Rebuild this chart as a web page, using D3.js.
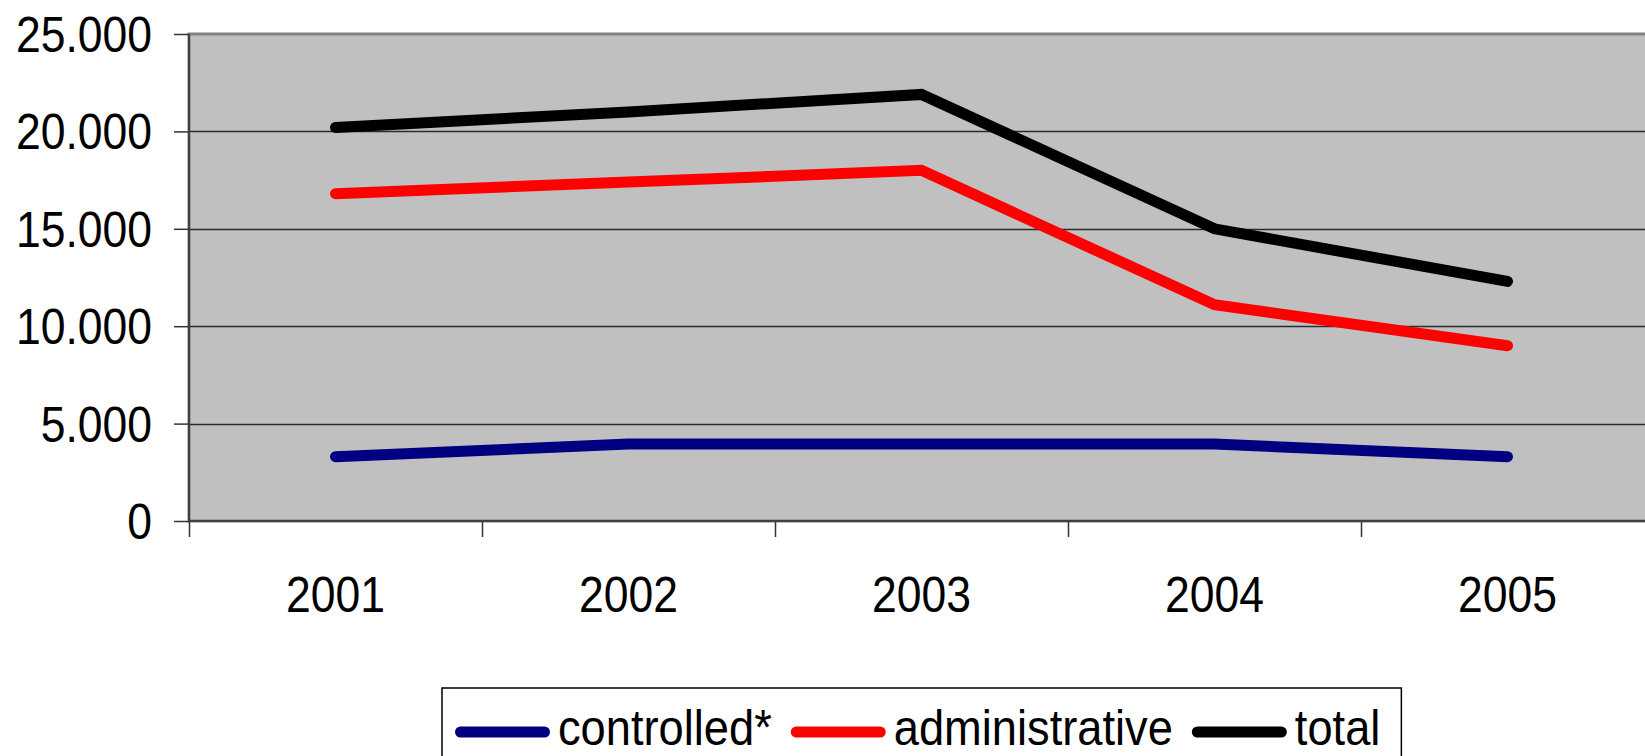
<!DOCTYPE html>
<html>
<head>
<meta charset="utf-8">
<script src="https://cdn.jsdelivr.net/npm/d3@7"></script>
<style>
  body { margin: 0; background: #fff; }
  svg { display: block; font-family: "Liberation Sans", Arial, sans-serif; }
</style>
</head>
<body>
<div id="chart"></div>
<script>
// chart data
var years = ["2001", "2002", "2003", "2004", "2005"];
var controlled = [3300, 3950, 3950, 3950, 3300];
var administrative = [16800, 17400, 18000, 11100, 9000];
var total = [20200, 21000, 21900, 15000, 12300];
var yTicks = [0, 5000, 10000, 15000, 20000, 25000];
var seriesNames = ["controlled*", "administrative", "total"];
var seriesColors = ["#000080", "#ff0000", "#000000"];

var width = 1645,
    height = 756;

// plot frame (the right side runs past the window, like the original)
var plotLeft = 189, plotRight = 1654, plotTop = 34, plotBottom = 521;
var fontSize = 50, squeeze = 0.89, legendSqueeze = 0.905;

var svg = d3.select("#chart")
    .append("svg")
    .attr("width", width)
    .attr("height", height);

var x = d3.scaleBand()
    .domain(years)
    .range([plotLeft, plotRight]);

var y = d3.scaleLinear()
    .domain([0, 25000])
    .range([plotBottom, plotTop]);

// german style thousands: 25.000
var fmt = d3.formatLocale({decimal: ",", thousands: ".", grouping: [3], currency: ["", ""]}).format(",d");

// grey plot area
svg.append("rect")
    .attr("x", plotLeft)
    .attr("y", plotTop)
    .attr("width", plotRight - plotLeft)
    .attr("height", plotBottom - plotTop)
    .attr("fill", "#c0c0c0")
    .attr("stroke", "#808080")
    .attr("stroke-width", 3);

// gridlines
svg.append("g")
    .selectAll("line")
    .data(yTicks.filter(function(d) { return d > 0 && d < 25000; }))
    .enter()
    .append("line")
    .attr("x1", plotLeft)
    .attr("x2", plotRight)
    .attr("y1", function(d) { return Math.round(y(d)) + 0.5; })
    .attr("y2", function(d) { return Math.round(y(d)) + 0.5; })
    .attr("stroke", "#2a2a2a")
    .attr("stroke-width", 1.3);

// y axis
var yAxis = svg.append("g")
    .attr("transform", "translate(" + plotLeft + ",0)")
    .call(d3.axisLeft(y).tickValues(yTicks).tickSize(15).tickFormat(fmt));
yAxis.select(".domain").remove();
yAxis.selectAll("line").attr("stroke", "#333").attr("stroke-width", 1.5);
yAxis.selectAll("text")
    .attr("x", 0)
    .attr("dy", "0.35em")
    .attr("transform", "translate(-37,0) scale(" + squeeze + ",1)")
    .style("font-size", fontSize + "px")
    .style("font-family", "'Liberation Sans', Arial, sans-serif")
    .attr("fill", "#000");

// x axis labels (centred in each band)
var xAxis = svg.append("g")
    .attr("transform", "translate(0," + plotBottom + ")")
    .call(d3.axisBottom(x).tickSize(0));
xAxis.select(".domain").remove();
xAxis.selectAll("text")
    .attr("y", 0)
    .attr("dy", 0)
    .attr("transform", "translate(0,91) scale(" + squeeze + ",1)")
    .style("font-size", fontSize + "px")
    .style("font-family", "'Liberation Sans', Arial, sans-serif")
    .attr("fill", "#000");

// x tick marks sit on the band edges
var edge = d3.scaleLinear().domain([0, years.length]).range([plotLeft, plotRight]);
var xTicks = svg.append("g")
    .attr("transform", "translate(0," + plotBottom + ")")
    .call(d3.axisBottom(edge).tickValues(d3.range(years.length + 1)).tickSize(16).tickFormat(""));
xTicks.select(".domain").remove();
xTicks.selectAll("line").attr("stroke", "#333").attr("stroke-width", 1.5);

// dark left + bottom axis lines
svg.append("line")
    .attr("x1", plotLeft).attr("x2", plotLeft)
    .attr("y1", plotTop).attr("y2", plotBottom)
    .attr("stroke", "#404040").attr("stroke-width", 2);
svg.append("line")
    .attr("x1", plotLeft).attr("x2", plotRight)
    .attr("y1", plotBottom).attr("y2", plotBottom)
    .attr("stroke", "#404040").attr("stroke-width", 2);

// lines
var series = [controlled, administrative, total];

var line = d3.line()
    .x(function(d, i) { return x(years[i]) + x.bandwidth() / 2; })
    .y(function(d) { return y(d); });

svg.append("g")
    .selectAll("path")
    .data(series)
    .enter()
    .append("path")
    .attr("d", line)
    .attr("fill", "none")
    .attr("stroke", function(d, i) { return seriesColors[i]; })
    .attr("stroke-width", 11)
    .attr("stroke-linecap", "round")
    .attr("stroke-linejoin", "miter");

// legend
var legend = svg.append("g");
var legendBox = legend.append("rect")
    .attr("y", 688)
    .attr("height", 120)
    .attr("fill", "#fff")
    .attr("stroke", "#000")
    .attr("stroke-width", 1.5);

var lx = 455;
seriesNames.forEach(function(name, i) {
    legend.append("line")
        .attr("x1", lx + 5.5)
        .attr("x2", lx + 95 - 5.5)
        .attr("y1", 732)
        .attr("y2", 732)
        .attr("stroke", seriesColors[i])
        .attr("stroke-width", 11)
        .attr("stroke-linecap", "round");
    var t = legend.append("text")
        .attr("transform", "translate(" + (lx + 103) + ",745) scale(" + legendSqueeze + ",1)")
        .style("font-size", fontSize + "px")
        .attr("fill", "#000")
        .text(name);
    lx = lx + 103 + t.node().getComputedTextLength() * legendSqueeze + 19;
});
legendBox
    .attr("x", 442)
    .attr("width", lx - 19 + 21 - 442);
</script>
</body>
</html>
